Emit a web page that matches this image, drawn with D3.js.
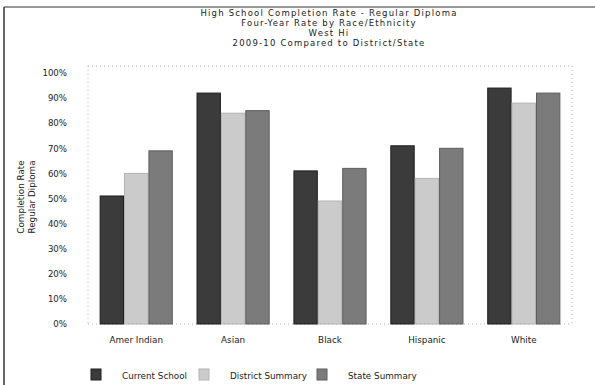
<!DOCTYPE html>
<html>
<head>
<meta charset="utf-8">
<script src="https://cdn.jsdelivr.net/npm/d3@7"></script>
<style>
  html, body { margin: 0; padding: 0; background: #fff; }
  svg { display: block; }
  text { font-family: "DejaVu Sans", Verdana, sans-serif; fill: #222; }
</style>
</head>
<body>
<svg id="chart" width="595" height="385"></svg>
<script>
// Completion rates (percent) by race/ethnicity
const categories = ["Amer Indian", "Asian", "Black", "Hispanic", "White"];
const seriesNames = ["Current School", "District Summary", "State Summary"];
const currentSchool = [51, 92, 61, 71, 94];
const districtSummary = [60, 84, 49, 58, 88];
const stateSummary = [69, 85, 62, 70, 92];
const yTicks = [0, 10, 20, 30, 40, 50, 60, 70, 80, 90, 100];
const titleLines = [
  "High School Completion Rate - Regular Diploma",
  "Four-Year Rate by Race/Ethnicity",
  "West Hi",
  "2009-10  Compared to District/State"
];
const yTitleLines = ["Completion Rate", "Regular Diploma"];

const seriesValues = [currentSchool, districtSummary, stateSummary];
const fills = ["#3b3b3b", "#cbcbcb", "#7b7b7b"];
const strokes = ["#1e1e1e", "#b4b4b4", "#5e5e5e"];

const svg = d3.select("#chart");
const plot = { left: 88, right: 572, top: 66, bottom: 324 };

const x0 = d3.scaleBand().domain(categories)
  .range([plot.left, plot.right]).paddingInner(0.245).paddingOuter(0.12);
const x1 = d3.scaleBand().domain(seriesNames)
  .range([0, x0.bandwidth()]).padding(0);
const y = d3.scaleLinear().domain([0, 100]).range([plot.bottom, plot.bottom - 251]);

// outer frame (top and left edges)
svg.append("line").attr("x1", 4).attr("x2", 595).attr("y1", 7).attr("y2", 7)
  .attr("stroke", "#333").attr("stroke-width", 1.2);
svg.append("line").attr("x1", 4).attr("x2", 4).attr("y1", 7).attr("y2", 385)
  .attr("stroke", "#333").attr("stroke-width", 1.5);

// title
svg.append("g").selectAll("text").data(titleLines).join("text")
  .attr("x", 329).attr("y", (d, i) => 16 + i * 10)
  .attr("text-anchor", "middle").attr("font-size", 8.5)
  .attr("letter-spacing", 1.2)
  .text(d => d);

// faint dotted plot border
const frame = svg.append("g").attr("stroke", "#b5b5b5").attr("stroke-dasharray", "1,3").attr("fill", "none");
frame.append("line").attr("x1", plot.left).attr("x2", plot.right).attr("y1", plot.top).attr("y2", plot.top);
frame.append("line").attr("x1", plot.left).attr("x2", plot.right).attr("y1", plot.bottom).attr("y2", plot.bottom);
frame.append("line").attr("x1", plot.left).attr("x2", plot.left).attr("y1", plot.top).attr("y2", plot.bottom);
frame.append("line").attr("x1", plot.right).attr("x2", plot.right).attr("y1", plot.top).attr("y2", plot.bottom);

// y axis
const yAxis = d3.axisLeft(y).tickValues(yTicks).tickFormat(d => d + "%").tickSize(0).tickPadding(21);
const yg = svg.append("g").attr("transform", `translate(${plot.left},0)`).call(yAxis);
yg.select(".domain").remove();
yg.selectAll("text").attr("font-size", 8.6).attr("font-family", "DejaVu Sans, sans-serif").attr("fill", "#222");

// y axis title
const yt = svg.append("text").attr("transform", "translate(24,197) rotate(-90)")
  .attr("text-anchor", "middle").attr("font-size", 8.8);
yt.selectAll("tspan").data(yTitleLines).join("tspan")
  .attr("x", 0).attr("dy", (d, i) => i === 0 ? 0 : 10.5).text(d => d);

// bars
const groups = svg.append("g").selectAll("g").data(categories).join("g")
  .attr("transform", d => `translate(${x0(d)},0)`);
groups.selectAll("rect")
  .data((c, ci) => seriesNames.map((s, si) => ({ s, si, v: seriesValues[si][ci] })))
  .join("rect")
  .attr("x", d => x1(d.s) + 0.5)
  .attr("width", x1.bandwidth() - 1)
  .attr("y", d => y(d.v))
  .attr("height", d => y(0) - y(d.v))
  .attr("fill", d => fills[d.si])
  .attr("stroke", d => strokes[d.si])
  .attr("stroke-width", 1);

// x axis labels
const xAxis = d3.axisBottom(x0).tickSize(0).tickPadding(13);
const xg = svg.append("g").attr("transform", `translate(0,${plot.bottom})`).call(xAxis);
xg.select(".domain").remove();
xg.selectAll("text").attr("font-size", 8.8).attr("font-family", "DejaVu Sans, sans-serif").attr("fill", "#222");

// legend
const legendX = [91, 199, 317];
const lg = svg.append("g").selectAll("g").data(seriesNames).join("g")
  .attr("transform", (d, i) => `translate(${legendX[i]},369)`);
lg.append("rect").attr("width", 10).attr("height", 11)
  .attr("fill", (d, i) => fills[i]).attr("stroke", (d, i) => strokes[i]);
lg.append("text").attr("x", 31).attr("y", 9.5).attr("font-size", 8.8).text(d => d);
</script>
</body>
</html>
